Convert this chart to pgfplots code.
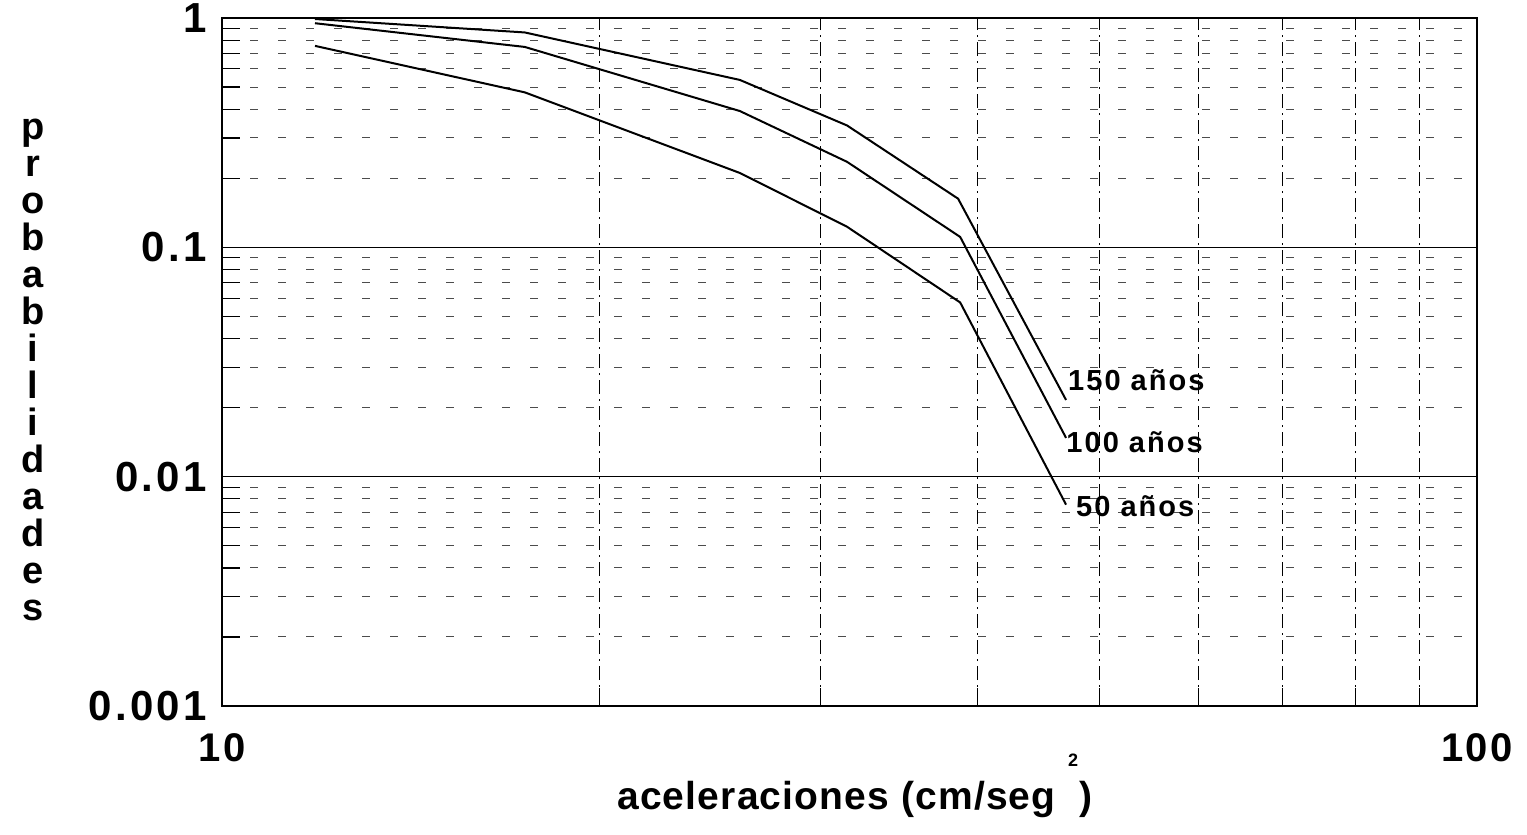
\documentclass[border=0pt]{standalone}
\usepackage{pgfplots}
\pgfplotsset{compat=1.18}
\usepackage{fontspec}
\setmainfont{Liberation Sans}
\newfontfamily\lab{Liberation Sans}[LetterSpace=12]
\newfontfamily\labt{Liberation Sans}[LetterSpace=5]
\newfontfamily\laby{Liberation Sans}[LetterSpace=8]
\newfontfamily\labc{Liberation Sans}[LetterSpace=7]
\newfontfamily\labx{Liberation Sans}[LetterSpace=3]
\begin{document}
\begin{tikzpicture}
\begin{axis}[
  at={(0,0)}, anchor=south west,
  scale only axis, width=627.5pt, height=344pt,
  xmode=log, ymode=log,
  xmin=10, xmax=100, ymin=0.001, ymax=1,
  xtick={10,100}, xticklabels={10,100},
  ytick={0.001,0.01,0.1,1}, yticklabels={0.001,0.01,0.1,1},
  minor xtick={20,30,40,50,60,70,80,90},
  minor ytick={0.002,0.003,0.004,0.005,0.006,0.007,0.008,0.009,0.02,0.03,0.04,0.05,0.06,0.07,0.08,0.09,0.2,0.3,0.4,0.5,0.6,0.7,0.8,0.9},
  xtick pos=bottom, ytick pos=left,
  tick align=inside,
  major tick length=0pt, minor tick length=9pt,
  tick style={black, line width=0.6pt},
  grid=both,
  major grid style={black, line width=0.8pt},
  minor x grid style={black, line width=0.6pt, dash pattern=on 7pt off 2.5pt on 1pt off 2.5pt},
  minor y grid style={black!70, line width=0.5pt, dash pattern=on 4pt off 10pt},
  axis line style={black, line width=1pt},
  xticklabel style={font=\labt\bfseries\fontsize{20}{20}\selectfont, yshift=-10pt},
  yticklabel style={font=\laby\bfseries\fontsize{21}{21}\selectfont, xshift=-4pt},
  clip=false,
]
\addplot[black, line width=1pt] coordinates {(11.86,0.99)(17.43,0.865)(25.86,0.537)(31.48,0.340)(38.60,0.163)(47.05,0.0216)};
\addplot[black, line width=1pt] coordinates {(11.86,0.949)(17.43,0.748)(25.86,0.393)(31.48,0.236)(38.75,0.111)(47.05,0.01476)};
\addplot[black, line width=1pt] coordinates {(11.86,0.756)(17.43,0.474)(25.86,0.211)(31.48,0.123)(38.75,0.0575)(47.05,0.00755)};
\node[anchor=west, inner sep=0pt, font=\labc\bfseries\fontsize{14.5}{14.5}\selectfont] at (axis cs:47.2,0.0264) {150 años};
\node[anchor=west, inner sep=0pt, font=\labc\bfseries\fontsize{14.5}{14.5}\selectfont] at (axis cs:47.05,0.01416) {100 años};
\node[anchor=west, inner sep=0pt, font=\labc\bfseries\fontsize{14.5}{14.5}\selectfont] at (axis cs:47.9,0.00745) {50 años};
\end{axis}
\node[font=\lab\bfseries\fontsize{19}{18.5}\selectfont, align=center] at (-94.5pt,168pt) {p\\r\\o\\b\\a\\b\\i\\l\\i\\d\\a\\d\\e\\s};
\node[font=\labx\bfseries\fontsize{19.5}{19.5}\selectfont] at (316.5pt,-47pt) {aceleraciones (cm/seg\ \ )};
\node[font=\labx\bfseries\fontsize{9}{9}\selectfont] at (425.5pt,-27pt) {2};
\pgfresetboundingbox
\useasboundingbox (-111pt,-64.5pt) rectangle (652.5pt,353pt);
\end{tikzpicture}
\end{document}
